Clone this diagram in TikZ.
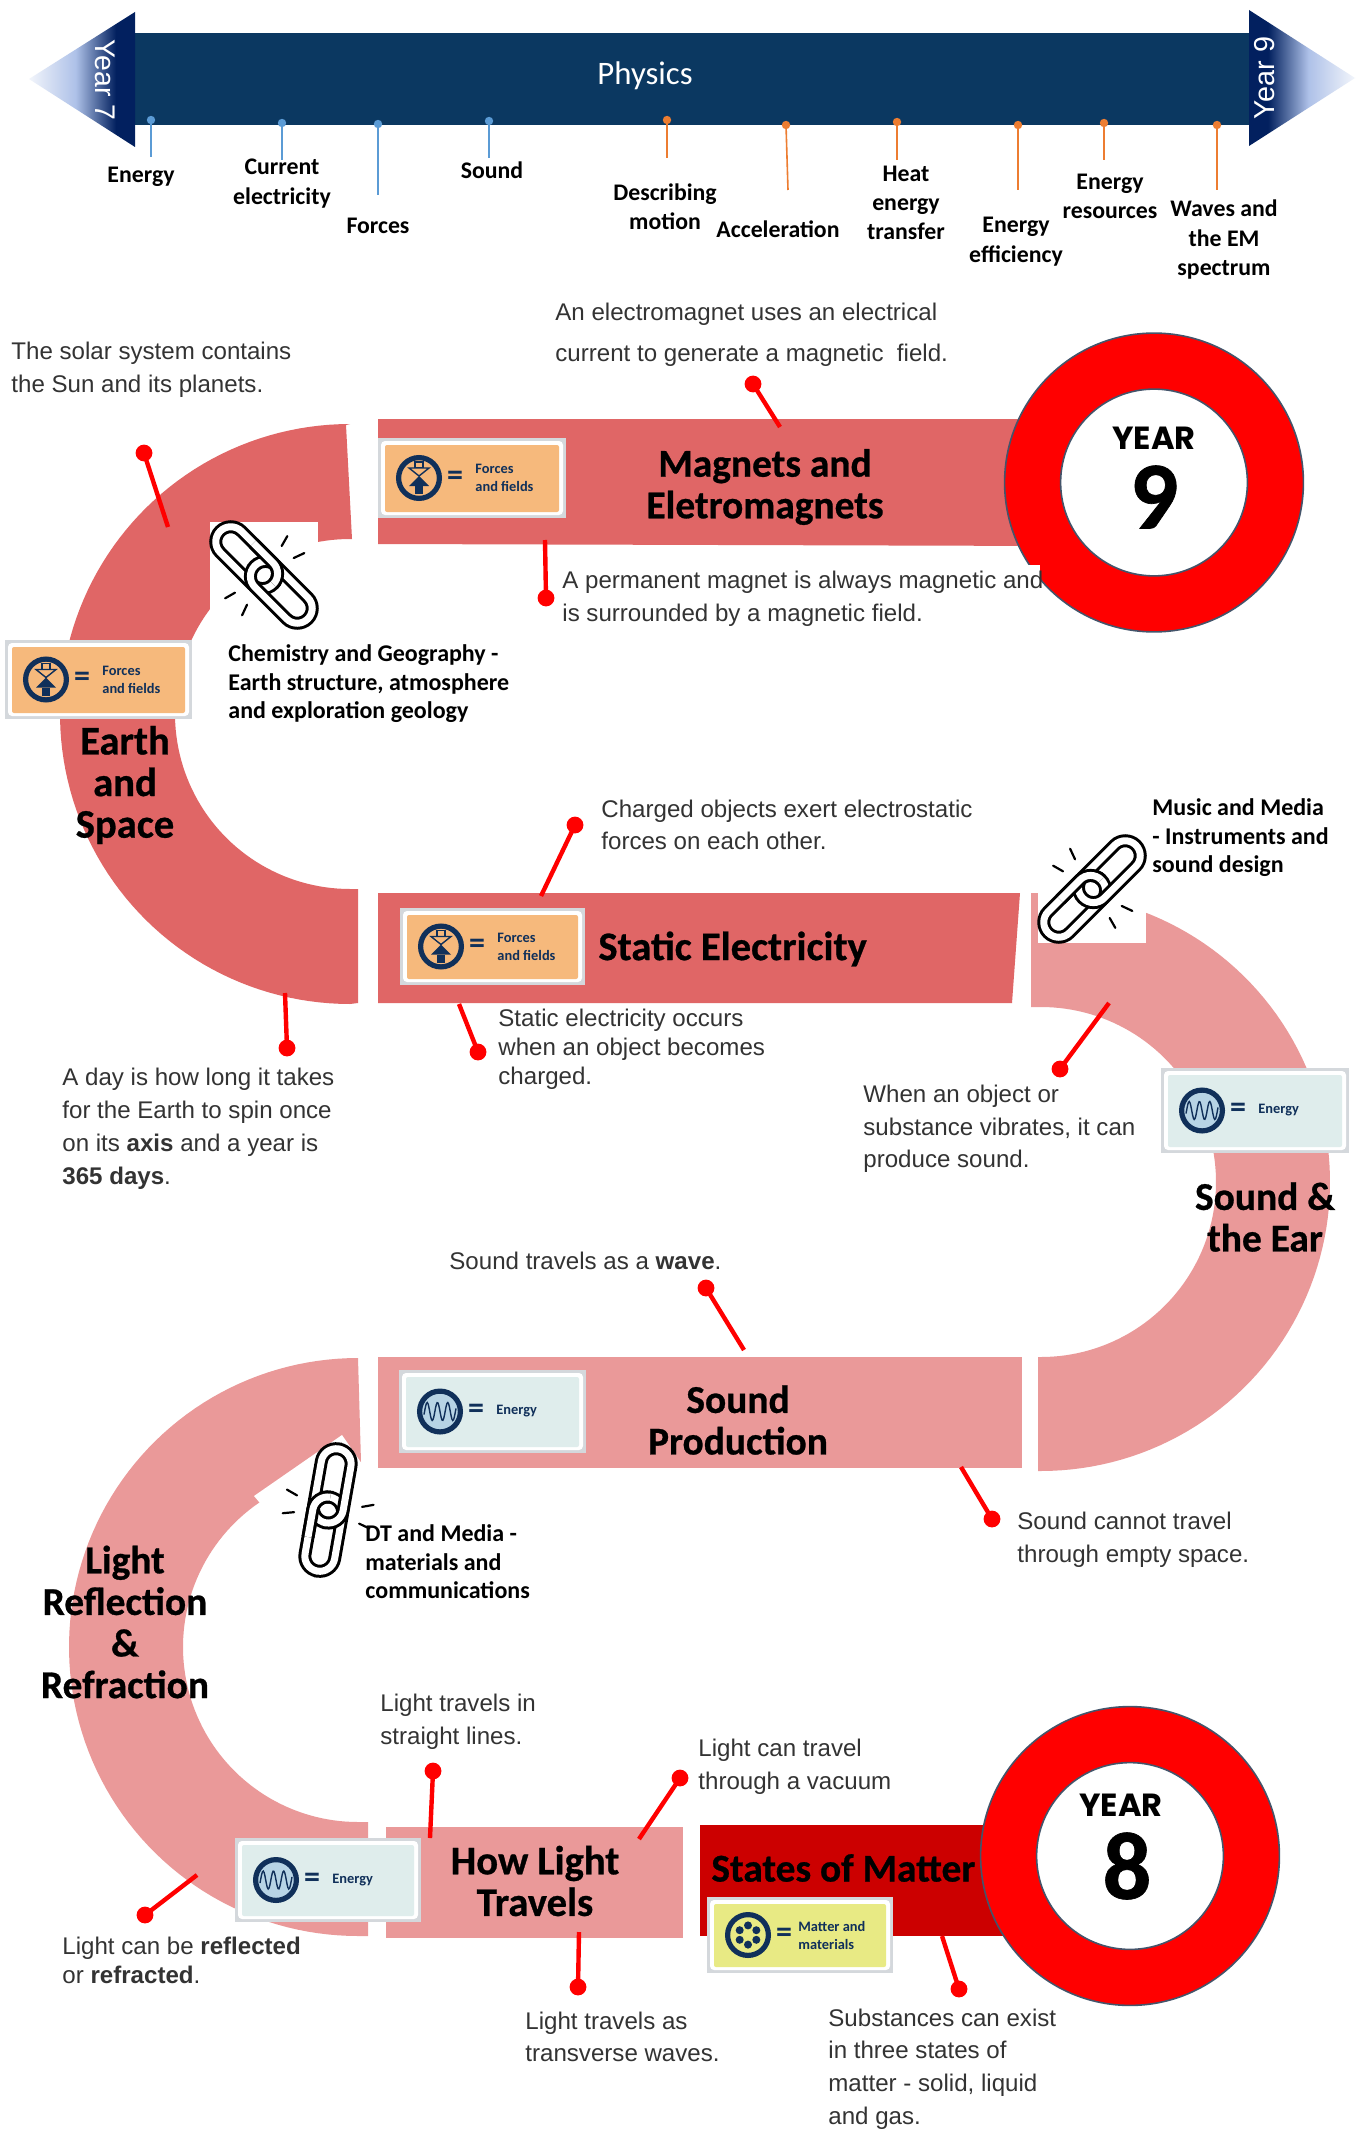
\documentclass[tikz,border=0pt]{standalone}
\usepackage{fontspec}
\setmainfont{Liberation Sans}
\newfontfamily\carl{Carlito}
\newfontfamily\titlef[BoldFeatures={FakeBold=0.7}]{Carlito}
\newfontfamily\yearf{Poppins}
\newcommand{\sz}[2]{\fontsize{#1}{#2}\selectfont}
\definecolor{bandD}{HTML}{E06666}
\definecolor{bandL}{HTML}{EA9999}
\definecolor{bandS}{HTML}{CC0000}
\definecolor{navy}{HTML}{0B3861}
\definecolor{tri}{HTML}{02205F}
\definecolor{tril}{HTML}{AEC1E8}
\definecolor{triw}{HTML}{F2F5FB}
\definecolor{ringedge}{HTML}{44546A}
\definecolor{bodygray}{HTML}{333333}
\definecolor{pinB}{HTML}{5B9BD5}
\definecolor{pinO}{HTML}{ED7D31}
\definecolor{boxF}{HTML}{F6B97C}
\definecolor{boxE}{HTML}{DFEDEC}
\definecolor{boxM}{HTML}{E8EA84}
\definecolor{boxedge}{HTML}{D4D8DC}
\definecolor{iconnavy}{HTML}{10305A}
\pgfdeclarehorizontalshading{triL}{100bp}{color(0bp)=(triw); color(25bp)=(triw); color(47bp)=(tril); color(66bp)=(tri); color(100bp)=(tri)}
\pgfdeclarehorizontalshading{triR}{100bp}{color(0bp)=(tri); color(34bp)=(tri); color(53bp)=(tril); color(75bp)=(triw); color(100bp)=(triw)}
\tikzset{
 body/.style={font=\sz{12.05}{16.3},text=bodygray,align=left,anchor=west,inner sep=0pt,yshift=-1.5pt},
 bodytight/.style={body,font=\sz{12.05}{14.4}},
 linktext/.style={font=\carl\bfseries\sz{12}{14.3},align=left,anchor=west,inner sep=0pt,text=black},
 toplabel/.style={font=\carl\bfseries\sz{11.9}{14.6},align=center,inner sep=0pt,text=black,yshift=-.3pt},
 title/.style={font=\titlef\bfseries\sz{19.7}{20.8},align=center,inner sep=0pt,text=black},
 titlewide/.style={title,font=\titlef\bfseries\sz{20.3}{20.8}},
 yeartext/.style={font=\yearf\bfseries\sz{16}{18},inner sep=0pt},
 yearnum/.style={font=\titlef\bfseries\sz{48}{50},inner sep=0pt},
 dot/.style={circle,fill=red,minimum size=8.4pt,inner sep=0pt},
 redline/.style={draw=red,line width=2.2pt},
 pinblue/.style={circle,fill=pinB,minimum size=4.2pt,inner sep=0pt},
 pinorange/.style={circle,fill=pinO,minimum size=4.2pt,inner sep=0pt},
 pinlineB/.style={draw=pinB,line width=.8pt},
 pinlineO/.style={draw=pinO,line width=.8pt},
 linkblack/.style={draw=black,line width=6.5pt,rounded corners=7.5pt},
 linkwhite/.style={draw=white,line width=3.5pt,rounded corners=7.5pt},
 chain/.pic={
  \draw[linkblack] (-62,-15) rectangle (13,15);
  \draw[linkwhite] (-62,-15) rectangle (13,15);
  \draw[linkblack] (-13,-15) rectangle (62,15);
  \draw[linkwhite] (-13,-15) rectangle (62,15);
  \begin{scope}
   \clip (-30,-30) rectangle (30,0);
   \draw[linkblack] (-62,-15) rectangle (13,15);
   \draw[linkwhite] (-62,-15) rectangle (13,15);
  \end{scope}
  \draw[line width=1.1pt,line cap=round] (-8,-33)--(-11,-44) (9,-33)--(13,-44) (-8,33)--(-11,44) (9,33)--(13,44);
 }
}
\newcommand{\ringfig}[2]{% cx, cy
 \fill[red,draw=ringedge,line width=.8pt] (#1,#2) circle[radius=74.7pt];
 \fill[white,draw=ringedge,line width=.8pt] (#1,#2) circle[radius=46.7pt];
}
\newcommand{\lgbox}[9]{% name,x1,y1,x2,y2,fill,icon macro,text,text offset
 \fill[boxedge] (#2,#3) rectangle (#4,#5);
 \fill[white,rounded corners=2pt] ({#2+3},{#3+3}) rectangle ({#4-3},{#5-3});
 \fill[#6,rounded corners=1pt] ({#2+7},{#3+7}) rectangle ({#4-7},{#5-6});
 \coordinate (#1) at ({#2+41},{(#3+#5)/2});
 #7{#1}
 \node[font=\carl\bfseries\sz{16}{16},text=iconnavy,inner sep=0pt] (#1eq) at ([xshift=18pt]#1) {=};
 \node[font=\carl\bfseries\sz{7.2}{9},text=iconnavy,align=left,anchor=west,inner sep=0pt] (#1tx) at ([xshift=#9]#1) {#8};
}
\newcommand{\iconring}[2]{\fill[#2,draw=iconnavy,line width=2.6pt] (#1) circle[radius=10.2pt];}
\newcommand{\iconF}[1]{\iconring{#1}{boxF}
 \fill[iconnavy] ([xshift=-2pt,yshift=-8pt]#1) rectangle ([xshift=2pt,yshift=-4pt]#1);
 \fill[iconnavy] ([xshift=-5pt,yshift=-4pt]#1) -- ([yshift=1pt]#1) -- ([xshift=5pt,yshift=-4pt]#1) -- cycle;
 \draw[iconnavy,line width=.7pt,fill=boxF] ([xshift=-2pt,yshift=8pt]#1) rectangle ([xshift=2pt,yshift=5pt]#1);
 \draw[iconnavy,line width=.7pt,fill=boxF] ([xshift=-5pt,yshift=5pt]#1) -- ([yshift=1pt]#1) -- ([xshift=5pt,yshift=5pt]#1) -- cycle;
}
\newcommand{\iconE}[1]{\iconring{#1}{boxE!70!pinB}
 \draw[iconnavy,line width=.7pt] plot[domain=-8:8,samples=40,shift={(#1)}] ({\x*2},{9*sin(\x*70)});
}
\newcommand{\iconM}[1]{\iconring{#1}{boxM}
 \foreach \a in {30,90,150,210,270,330}{\fill[iconnavy] (#1) ++(\a:4.8pt) circle[radius=2pt];}
 \fill[boxM] (#1) circle[radius=1.8pt];
}
\begin{document}
\begin{tikzpicture}[x=0.5pt,y=-0.5pt]
\useasboundingbox (0,0) rectangle (1364,2129);
\fill[white] (0,0) rectangle (1364,2129);
% top banner
\fill[navy] (135,33) rectangle (1249,125);
\shade[shading=triL] (29,79) -- (135,12) -- (135,147) -- cycle;
\shade[shading=triR] (1249,10) -- (1355,78) -- (1249,146) -- cycle;
\node[font=\carl\sz{16.4}{18},text=white,inner sep=0pt] (physics) at (645,76) {Physics};
\node[font=\sz{14.2}{16},text=white,rotate=-90,inner sep=0pt] (y7) at (105,80) {Year 7};
\node[font=\sz{14.4}{16},text=white,rotate=90,inner sep=0pt] (y9) at (1265,78) {Year 9};
% timeline pins
\node[pinblue] (p1) at (151,120) {}; \coordinate (q1) at (151,157);
\node[pinblue] (p2) at (282,123) {}; \coordinate (q2) at (282,160);
\node[pinblue] (p3) at (378,124) {}; \coordinate (q3) at (378,195);
\node[pinblue] (p4) at (489,121) {}; \coordinate (q4) at (489,158);
\node[pinorange] (p5) at (667,120) {}; \coordinate (q5) at (667,158);
\node[pinorange] (p6) at (786,125) {}; \coordinate (q6) at (788,190);
\node[pinorange] (p7) at (897,122) {}; \coordinate (q7) at (897,160);
\node[pinorange] (p8) at (1018,125) {}; \coordinate (q8) at (1018,190);
\node[pinorange] (p9) at (1104,123) {}; \coordinate (q9) at (1104,160);
\node[pinorange] (p10) at (1217,125) {}; \coordinate (q10) at (1217,190);
\foreach \i in {1,2,3,4} \draw[pinlineB] (p\i.center) -- (q\i);
\foreach \i in {5,6,7,8,9,10} \draw[pinlineO] (p\i.center) -- (q\i);
\node[toplabel] (l1) at (141,176) {Energy};
\node[toplabel] (l2) at (282,183) {Current\\electricity};
\node[toplabel] (l3) at (378,225) {Forces};
\node[toplabel] (l4) at (492,170) {Sound};
\node[toplabel] (l5) at (665,206) {Describing\\motion};
\node[toplabel] (l6) at (778,229) {Acceleration};
\node[toplabel] (l7) at (906,202) {Heat\\energy\\transfer};
\node[toplabel] (l8) at (1016,241) {Energy\\efficiency};
\node[toplabel] (l9) at (1110,196) {Energy\\resources};
\node[toplabel] (l10) at (1224,239) {Waves and\\the EM\\spectrum};
% Earth and Space band
\fill[bandD] (346,425) -- plot[domain=270:90,samples=90] ({350+290*cos(\x)},{714+290*sin(\x)}) -- (358,1003) -- (358,889) -- plot[domain=90:270,samples=90] ({350+175*cos(\x)},{714+175*sin(\x)}) -- (352,539) -- cycle;
\fill[white] (210,522) rectangle (318,630);
\pic[rotate=-45] at (264,575) {chain};
% Magnets band + ring
\fill[bandD] (378,419) -- (1060,419) -- (1060,546) -- (378,544) -- cycle;
\ringfig{1154}{482.5}
\fill[white] (560,565) rectangle (1040,625);
\node[yeartext] (yr9) at (1154,438) {YEAR};
\node[yearnum] (n9) at (1154,497) {9};
\lgbox{b1}{378}{438}{566}{518}{boxF}{\iconF}{Forces\\and fields}{28pt}
\node[title] (t1) at (765,487) {Magnets and\\Eletromagnets};
\lgbox{b2}{5}{640}{192}{719}{boxF}{\iconF}{Forces\\and fields}{28pt}
\node[titlewide] (t2) at (125,785) {Earth\\and\\Space};
% Static
\fill[bandD] (378,893) -- (1020,893) -- (1012,1003) -- (378,1003) -- cycle;
\lgbox{b3}{400}{908}{585}{985}{boxF}{\iconF}{Forces\\and fields}{28pt}
\node[titlewide,anchor=west] (t3) at (598,949) {Static Electricity};
% Sound and the Ear
\fill[bandL] (1031,893) -- plot[domain=-90:90,samples=90] ({1041+289*cos(\x)},{1182+289*sin(\x)}) -- (1038,1471) -- (1038,1357) -- plot[domain=90:-90,samples=90] ({1041+175*cos(\x)},{1182+175*sin(\x)}) -- (1031,1007) -- cycle;
\fill[white] (1038,880) rectangle (1146,943);
\pic[rotate=45] at (1092,889) {chain};
\lgbox{b4}{1161}{1068}{1349}{1153}{boxE}{\iconE}{Energy}{28pt}
\node[title] (t4) at (1265,1217) {Sound \&\\the Ear};
% Sound production
\fill[bandL] (378,1357) rectangle (1022,1468);
\lgbox{b5}{399}{1370}{586}{1453}{boxE}{\iconE}{Energy}{28pt}
\node[title] (t5) at (738,1420) {Sound\\Production};
% Light Reflection
\fill[bandL] (358,1358) -- plot[domain=270:90,samples=90] ({358+289*cos(\x)},{1647+289*sin(\x)}) -- (368,1936) -- (368,1822) -- plot[domain=90:270,samples=90] ({358+175*cos(\x)},{1647+175*sin(\x)}) -- (361,1462) -- cycle;
\fill[white] (342,1435) -- (254,1496) -- (260,1503) -- (339,1619) -- (427,1558) -- cycle;
\pic[rotate=80] at (328,1510) {chain};
\node[title] (t6) at (125,1622) {Light\\Reflection\\\&\\Refraction};
% How light
\fill[bandL] (386,1827) rectangle (683,1938);
\lgbox{b6}{235}{1838}{421}{1922}{boxE}{\iconE}{Energy}{28pt}
\node[titlewide] (t7) at (535,1881) {How Light\\Travels};
% States
\fill[bandS] (700,1825) rectangle (1010,1936);
\ringfig{1130}{1856}
\node[yeartext] (yr8) at (1121,1805) {YEAR};
\node[yearnum] (n8) at (1127,1866) {8};
\node[title,anchor=west] (t8) at (711,1868) {States of Matter};
\lgbox{b7}{707}{1897}{893}{1973}{boxM}{\iconM}{Matter and\\materials}{25pt}
% texts
\node[body] (a1) at (11,367) {The solar system contains\\the Sun and its planets.};
\node[body,font=\sz{12.05}{20.5}] (a2) at (555,332) {An electromagnet uses an electrical\\current to generate a magnetic\ \ field.};
\node[body] (a3) at (562,596) {A permanent magnet is always magnetic and\\is surrounded by a magnetic field.};
\node[linktext] (a4) at (228,684) {Chemistry and Geography -\\Earth structure, atmosphere\\and exploration geology};
\node[body] (a5) at (601,822) {Charged objects exert electrostatic\\forces on each other.};
\node[bodytight] (a6) at (498,1046) {Static electricity occurs\\when an object becomes\\charged.};
\node[body,font=\sz{12.05}{16.5}] (a7) at (62,1126) {A day is how long it takes\\for the Earth to spin once\\on its \textbf{axis} and a year is\\\textbf{365 days}.};
\node[body] (a8) at (863,1126) {When an object or\\substance vibrates, it can\\produce sound.};
\node[linktext] (a9) at (1152,838) {Music and Media\\- Instruments and\\sound design};
\node[body] (a10) at (449,1258) {Sound travels as a \textbf{wave}.};
\node[body] (a11) at (1017,1537) {Sound cannot travel\\through empty space.};
\node[linktext] (a12) at (365,1562) {DT and Media -\\materials and\\communications};
\node[body] (a13) at (380,1719) {Light travels in\\straight lines.};
\node[body] (a14) at (698,1764) {Light can travel\\through a vacuum};
\node[bodytight] (a15) at (62,1957) {Light can be \textbf{reflected}\\or \textbf{refracted}.};
\node[body] (a16) at (525,2034) {Light travels as\\transverse waves.};
\node[body] (a17) at (828,2066) {Substances can exist\\in three states of\\matter - solid, liquid\\and gas.};
% red connectors
\foreach \n/\dx/\dy/\ex/\ey in {1/753/384/780/427, 2/546/598/545/540, 3/144/453/168/527, 4/287/1048/285/993, 5/575/825/541/896, 6/478/1052/459/1004, 7/1060/1069/1109/1003, 8/706/1288/744/1350, 9/992/1519/961/1467, 10/145/1915/197/1875, 11/433/1771/430/1838, 12/680/1778/639/1839, 13/578/1987/579/1932, 14/959/1989/942/1936}{
 \node[dot] (d\n) at (\dx,\dy) {};
 \coordinate (e\n) at (\ex,\ey);
 \draw[redline] (d\n.center) -- (e\n);
}
\end{tikzpicture}
\end{document}
